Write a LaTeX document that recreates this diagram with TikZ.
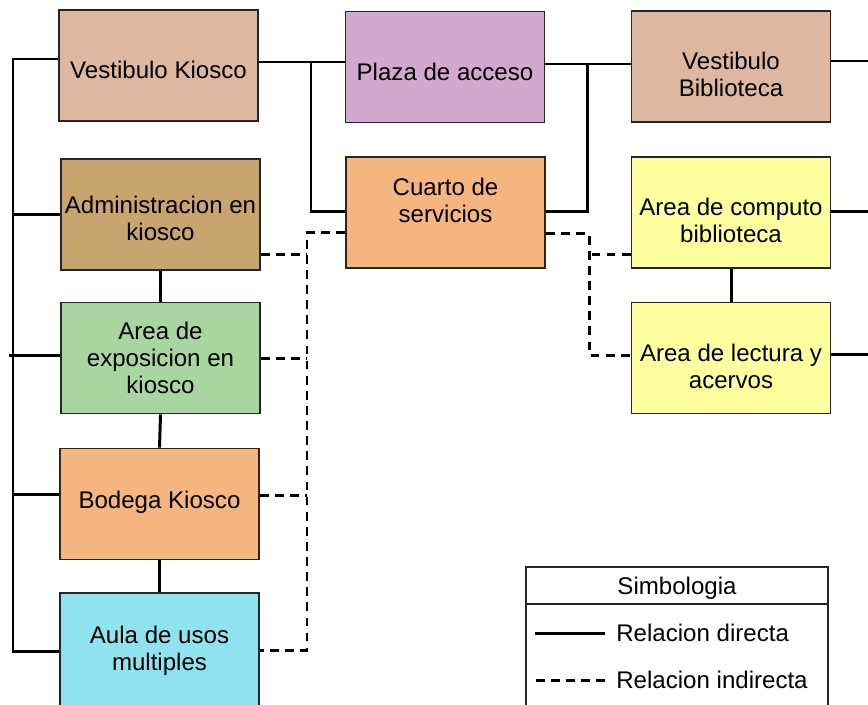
\documentclass[tikz,border=0pt]{standalone}
\usepackage{fontspec}
\setmainfont{Liberation Sans}
\usetikzlibrary{positioning, calc}
\definecolor{vestib}{RGB}{221, 183, 160}
\definecolor{plazac}{RGB}{211, 168, 207}
\definecolor{adminc}{RGB}{200, 164, 110}
\definecolor{servc}{RGB}{244, 181, 127}
\definecolor{biblioc}{RGB}{255, 255, 160}
\definecolor{expoc}{RGB}{168, 213, 160}
\definecolor{aulac}{RGB}{144, 226, 238}

\begin{document}
\begin{tikzpicture}[x=0.02cm, y=-0.02cm,
  room/.style={rectangle, draw=black!85, line width=1.1pt, inner sep=1pt, align=center, minimum width=3.98cm, minimum height=2.22cm},
  tup/.style={text depth=#1},
  tdown/.style={text height=#1},
  direct/.style={line width=1.7pt, draw=black},
  indirect/.style={line width=1.7pt, draw=black, dash pattern=on 5pt off 3.6pt},
  keytext/.style={inner sep=0pt, anchor=west},
  every node/.style={font=\fontsize{13.7}{15.5}\selectfont}
]
  \clip (0,0) rectangle (868,704);
  \fill[white] (0,0) rectangle (868,704);
  \node[room, fill=vestib, tdown=14.5pt] (vkiosco) at (158.5, 65.5) {Vestibulo Kiosco};
  \node[room, fill=plazac, tdown=15.6pt] (plaza) at (445, 67) {Plaza de acceso};
  \node[room, fill=vestib, tdown=34pt] (vbiblio) at (731, 66.5) {Vestibulo\\Biblioteca};
  \node[room, fill=adminc, tdown=29.5pt] (admin) at (160.5, 214.5) {Administracion en\\kiosco};
  \node[room, fill=servc, tup=13.8pt] (cuarto) at (445.5, 212.5) {Cuarto de\\servicios};
  \node[room, fill=biblioc, tdown=34.5pt] (computo) at (731, 212.5) {Area de computo\\biblioteca};
  \node[room, fill=expoc] (expo) at (160.5, 358) {Area de\\exposicion en\\kiosco};
  \node[room, fill=biblioc, tdown=35pt] (lectura) at (731, 358) {Area de lectura y\\acervos};
  \node[room, fill=servc, tup=5pt] (bodega) at (159.5, 504) {Bodega Kiosco};
  \node[room, fill=aulac, minimum height=2.32cm] (aula) at (159.5, 651) {Aula de usos\\multiples};

  \coordinate (busL) at (13, 651);
  \coordinate (jkiosco) at (311, 62);
  \coordinate (jbiblio) at (587, 64);
  \coordinate (dashL) at (307, 650);
  \coordinate (dashR) at (589, 355);
  \coordinate (edge) at (868, 0);

  \draw[direct] ($(vkiosco.west)+(0,-6.5)$) -| (busL) -- (aula.west);
  \draw[direct] (admin.west) -- (admin.west -| busL);
  \draw[direct] ($(expo.west)+(0,-3)$) -- ++(-51,0);
  \draw[direct] ($(bodega.west)+(0,-10)$) -- ($(bodega.west -| busL)+(0,-10)$);
  \draw[direct] ($(vkiosco.east)+(0,-3.5)$) -- ($(plaza.west)+(0,-5)$);
  \draw[direct] (jkiosco) |- ($(cuarto.west)+(0,-1.5)$);
  \draw[direct] ($(plaza.east)+(0,-3)$) -- ($(vbiblio.west)+(0,-2.5)$);
  \draw[direct] (jbiblio) |- ($(cuarto.east)+(0,-1.5)$);
  \draw[direct] ($(vbiblio.east)+(0,-5.5)$) -- ($(vbiblio.east -| edge)+(0,-5.5)$);
  \draw[direct] ($(computo.east)+(0,-1.5)$) -- ($(computo.east -| edge)+(0,-1.5)$);
  \draw[direct] ($(lectura.east)+(0,-4)$) -- ($(lectura.east -| edge)+(0,-4)$);
  \draw[direct] (admin.south) -- (expo.north);
  \draw[direct] (expo.south) -- (bodega.north);
  \draw[direct] (bodega.south) -- (aula.north -| bodega.south);
  \draw[direct] (computo.south) -- (lectura.north);

  \draw[indirect] ($(cuarto.west)+(0,20)$) -| (dashL) -- ($(aula.east)+(0,-1)$);
  \draw[indirect] ($(admin.east)+(0,40)$) -- ($(admin.east -| dashL)+(0,40)$);
  \draw[indirect] (expo.east) -- (expo.east -| dashL);
  \draw[indirect] ($(bodega.east)+(0,-9)$) -- ($(bodega.east -| dashL)+(0,-9)$);
  \draw[indirect] ($(cuarto.east)+(0,21)$) -| (dashR) -- ($(lectura.west)+(0,-3)$);
  \draw[indirect] ($(computo.west)+(0,41.5)$) -- ($(computo.west -| dashR)+(0,41.5)$);

  \node[draw=black!85, line width=1.1pt, minimum width=6.04cm, minimum height=2.92cm, inner sep=0pt] (simb) at (677, 640) {};
  \draw[line width=1.1pt, draw=black!85] ($(simb.north west)+(0,38)$) -- ($(simb.north east)+(0,38)$);
  \node (simbtit) at (677, 588) {Simbologia};
  \node[keytext] (kdir) at (616, 633) {Relacion directa};
  \node[keytext] (kind) at (616, 680) {Relacion indirecta};
  \draw[direct] ($(kdir.west)+(-11,0)$) -- ++(-70,0);
  \draw[indirect] ($(kind.west)+(-11,0)$) -- ++(-70,0);
\end{tikzpicture}
\end{document}
